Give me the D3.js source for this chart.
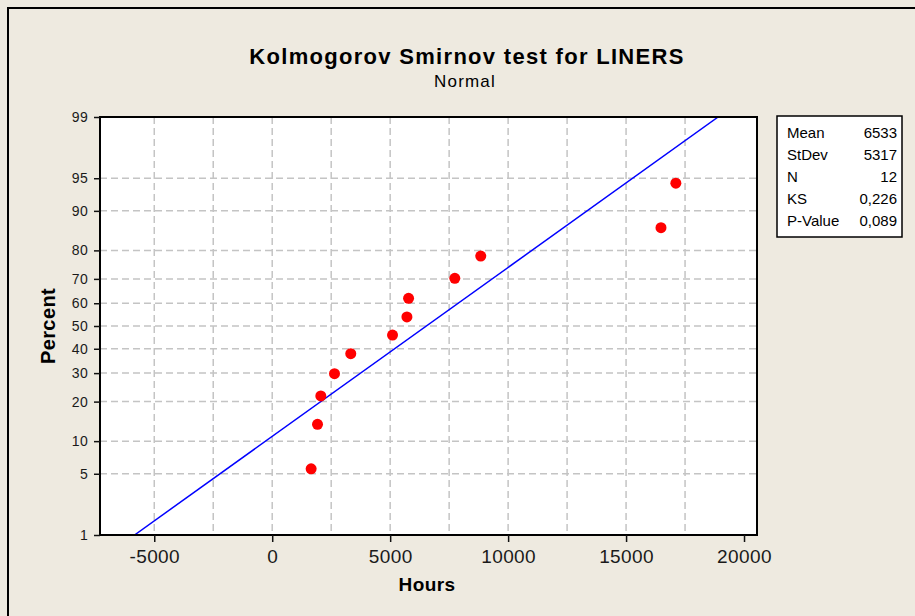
<!DOCTYPE html>
<meta charset="utf-8">
<style>
    body { margin: 0; background: #eeeae0; }
    svg { display: block; font-family: "Liberation Sans", Arial, sans-serif; }
    .grid line { stroke: #c4c4c4; stroke-width: 1.5; stroke-dasharray: 7,4; }
    .axis path { display: none; }
    .axis line { stroke: #111; stroke-width: 1.5; }
    .axis text { fill: #1a1a1a; }
</style>
<body>
<script src="https://cdn.jsdelivr.net/npm/d3@7"></script>
<script>
    // sorted observations (Hours) and their plotted percent (median ranks)
    const hours   = [1650, 1920, 2060, 2640, 3330, 5100, 5710, 5780, 7740, 8840, 16480, 17110];
    const percent = [5.6, 13.7, 21.8, 29.8, 37.9, 46.0, 54.0, 62.1, 70.2, 78.2, 86.3, 94.4];

    const xTicks = [-5000, 0, 5000, 10000, 15000, 20000];
    const xGrid  = [-5000, -2500, 0, 2500, 5000, 7500, 10000, 12500, 15000, 17500];
    const yTicks = [1, 5, 10, 20, 30, 40, 50, 60, 70, 80, 90, 95, 99];

    const statLabels = ["Mean", "StDev", "N", "KS", "P-Value"];
    const statValues = ["6533", "5317", "12", "0,226", "0,089"];
    const fitMean = 6533, fitSd = 5317;
    const fitRange = [1, 99];

    const W = 915, H = 616;
    const plot = {left: 100, right: 757, top: 117, bottom: 535};

    // inverse normal cdf (Acklam)
    function probit(p) {
        const a = [-3.969683028665376e+01, 2.209460984245205e+02, -2.759285104469687e+02, 1.383577518672690e+02, -3.066479806614716e+01, 2.506628277459239e+00];
        const b = [-5.447609879822406e+01, 1.615858368580409e+02, -1.556989798598866e+02, 6.680131188771972e+01, -1.328068155288572e+01];
        const c = [-7.784894002430293e-03, -3.223964580411365e-01, -2.400758277161838e+00, -2.549732539343734e+00, 4.374664141464968e+00, 2.938163982698783e+00];
        const d = [7.784695709041462e-03, 3.224671290700398e-01, 2.445134137142996e+00, 3.754408661907416e+00];
        const pl = 0.02425;
        let q, r;
        if (p < pl) {
            q = Math.sqrt(-2 * Math.log(p));
            return (((((c[0]*q+c[1])*q+c[2])*q+c[3])*q+c[4])*q+c[5]) / ((((d[0]*q+d[1])*q+d[2])*q+d[3])*q+1);
        }
        if (p > 1 - pl) {
            q = Math.sqrt(-2 * Math.log(1 - p));
            return -(((((c[0]*q+c[1])*q+c[2])*q+c[3])*q+c[4])*q+c[5]) / ((((d[0]*q+d[1])*q+d[2])*q+d[3])*q+1);
        }
        q = p - 0.5; r = q * q;
        return (((((a[0]*r+a[1])*r+a[2])*r+a[3])*r+a[4])*r+a[5])*q / (((((b[0]*r+b[1])*r+b[2])*r+b[3])*r+b[4])*r+1);
    }

    const x = d3.scaleLinear().domain([-7300, 20550]).range([plot.left, plot.right]);
    const zScale = d3.scaleLinear().domain([probit(0.01), probit(0.99)]).range([plot.bottom, plot.top]);
    const y = pc => zScale(probit(pc / 100));

    const svg = d3.select("body").append("svg")
        .attr("width", W)
        .attr("height", H);

    svg.append("rect").attr("width", W).attr("height", H).attr("fill", "#eeeae0");
    // outer frame
    svg.append("rect")
        .attr("x", 8).attr("y", 8).attr("width", 1000).attr("height", 1000)
        .attr("fill", "none").attr("stroke", "#000").attr("stroke-width", 2);

    // titles
    svg.append("text")
        .attr("x", 467).attr("y", 64)
        .attr("text-anchor", "middle")
        .style("font-size", "22px").style("font-weight", "bold").style("letter-spacing", "1.3px")
        .text("Kolmogorov Smirnov test for LINERS");
    svg.append("text")
        .attr("x", 465).attr("y", 87)
        .attr("text-anchor", "middle")
        .style("font-size", "17px").style("letter-spacing", "1.2px")
        .text("Normal");

    // plot area
    svg.append("rect")
        .attr("x", plot.left).attr("y", plot.top)
        .attr("width", plot.right - plot.left).attr("height", plot.bottom - plot.top)
        .attr("fill", "#fff");

    svg.append("clipPath").attr("id", "clip")
        .append("rect")
        .attr("x", plot.left).attr("y", plot.top)
        .attr("width", plot.right - plot.left).attr("height", plot.bottom - plot.top);

    const grid = svg.append("g").attr("class", "grid");
    grid.selectAll(".vg").data(xGrid).enter().append("line")
        .attr("x1", d => x(d)).attr("x2", d => x(d))
        .attr("y1", plot.top).attr("y2", plot.bottom);
    grid.selectAll(".hg").data(yTicks.slice(1, -1)).enter().append("line")
        .attr("x1", plot.left).attr("x2", plot.right)
        .attr("y1", d => y(d)).attr("y2", d => y(d));

    // fitted normal line
    const fit = fitRange.map(p => ({h: fitMean + fitSd * probit(p / 100), p: p}));
    svg.append("path")
        .datum(fit)
        .attr("clip-path", "url(#clip)")
        .attr("fill", "none")
        .attr("stroke", "#0000ff")
        .attr("stroke-width", 1.5)
        .attr("d", d3.line().x(d => x(d.h)).y(d => y(d.p)));

    // observations
    svg.selectAll(".dot")
        .data(hours.map((h, i) => ({h: h, p: percent[i]})))
        .enter().append("circle")
        .attr("class", "dot")
        .attr("cx", d => x(d.h))
        .attr("cy", d => y(d.p))
        .attr("r", 5.5)
        .attr("fill", "#ff0000");

    // frame of plot
    svg.append("rect")
        .attr("x", plot.left).attr("y", plot.top)
        .attr("width", plot.right - plot.left).attr("height", plot.bottom - plot.top)
        .attr("fill", "none").attr("stroke", "#000").attr("stroke-width", 2);

    // x axis
    svg.append("g")
        .attr("class", "axis")
        .attr("transform", "translate(0," + plot.bottom + ")")
        .call(d3.axisBottom(x).tickValues(xTicks).tickSize(7).tickPadding(8).tickFormat(d => String(d)))
        .selectAll("text")
        .style("font-size", "19px").style("letter-spacing", "0.4px");

    // y axis (normal probability)
    svg.append("g")
        .attr("class", "axis")
        .attr("transform", "translate(" + plot.left + ",0)")
        .call(d3.axisLeft(zScale)
            .tickValues(yTicks.map(p => probit(p / 100)))
            .tickFormat((d, i) => yTicks[i])
            .tickSize(6).tickPadding(6))
        .selectAll("text")
        .style("font-size", "14px").style("letter-spacing", "0.3px");

    // axis labels
    svg.append("text")
        .attr("x", 427).attr("y", 591)
        .attr("text-anchor", "middle")
        .style("font-size", "19px").style("font-weight", "bold").style("letter-spacing", "0.4px")
        .text("Hours");
    svg.append("text")
        .attr("transform", "translate(55," + ((plot.top + plot.bottom) / 2) + ") rotate(-90)")
        .attr("text-anchor", "middle")
        .style("font-size", "20px").style("font-weight", "bold").style("letter-spacing", "0.4px")
        .text("Percent");

    // stats box
    const box = svg.append("g").attr("class", "stats");
    box.append("rect")
        .attr("x", 777).attr("y", 116).attr("width", 125).attr("height", 121)
        .attr("fill", "#fff").attr("stroke", "#000").attr("stroke-width", 1.5);
    box.selectAll(".lab").data(statLabels).enter().append("text")
        .attr("x", 787).attr("y", (d, i) => 138 + i * 22)
        .style("font-size", "15px")
        .text(d => d);
    box.selectAll(".val").data(statValues).enter().append("text")
        .attr("x", 897).attr("y", (d, i) => 138 + i * 22)
        .attr("text-anchor", "end")
        .style("font-size", "15px")
        .text(d => d);
</script>
</body>
</html>
